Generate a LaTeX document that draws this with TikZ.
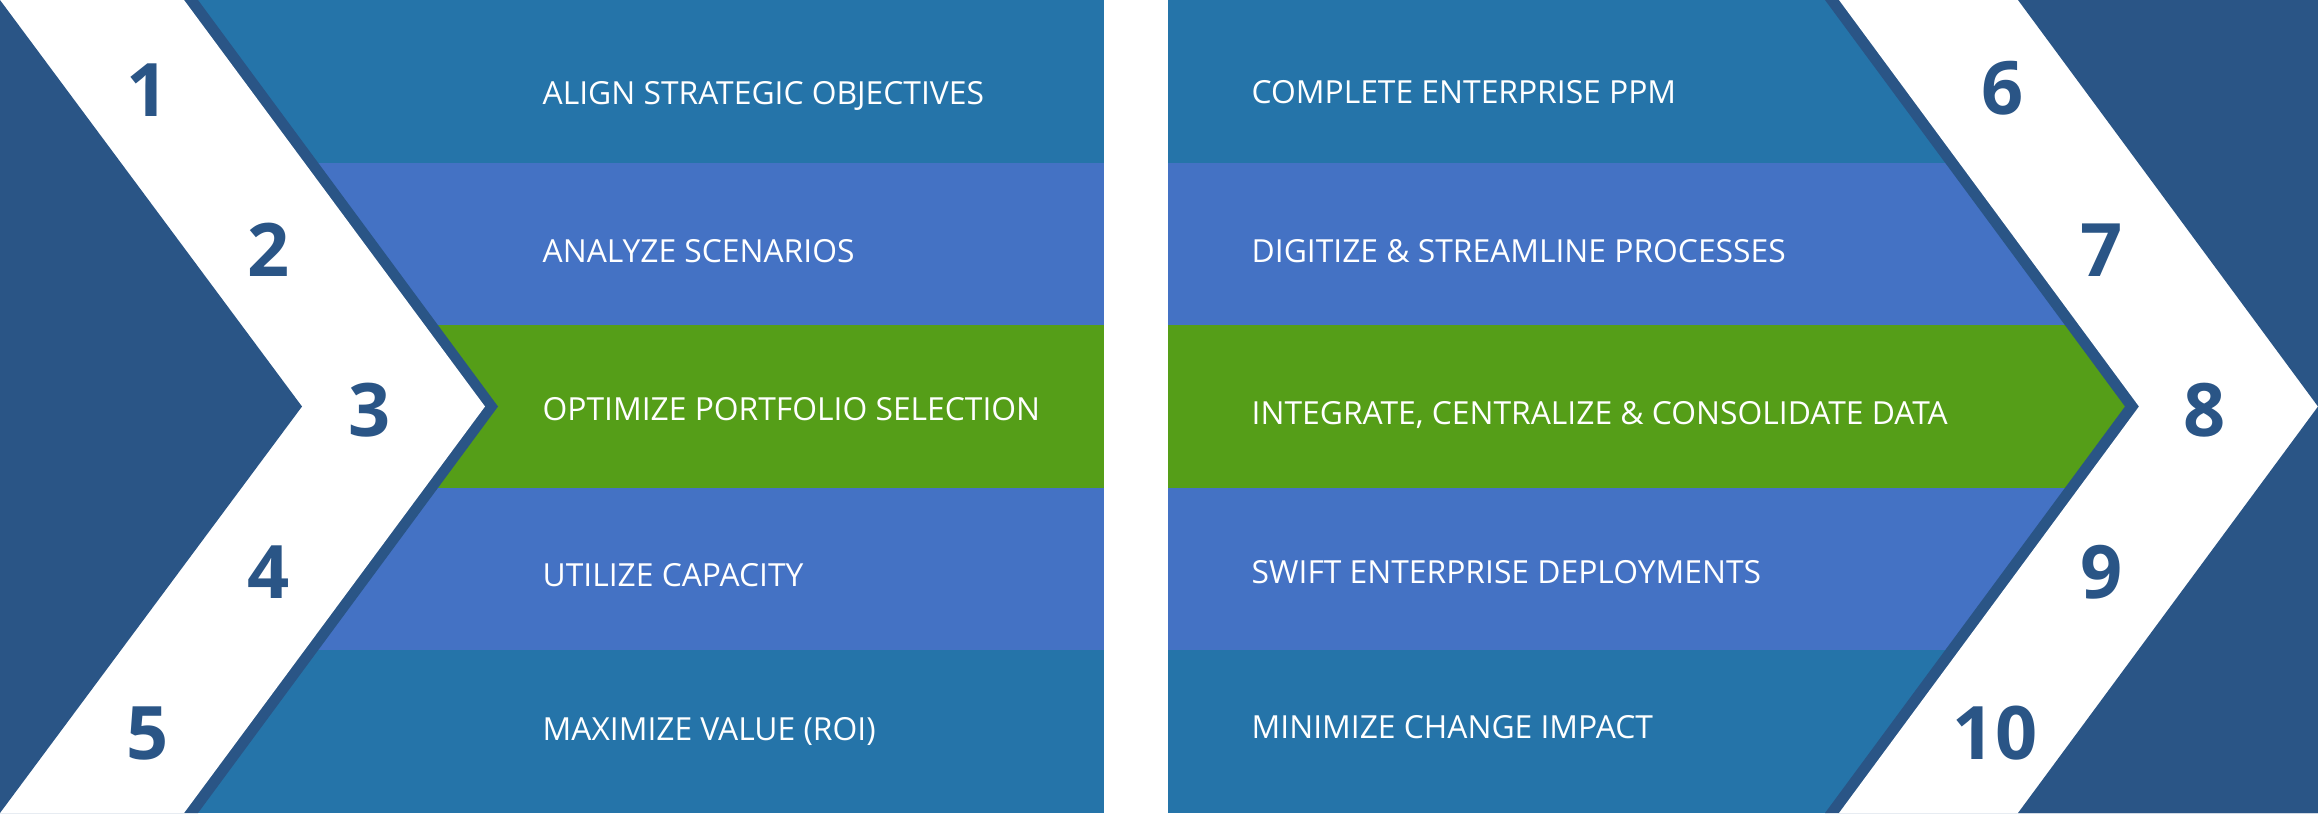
\documentclass[tikz,border=0pt]{standalone}
\usepackage{fontspec}
\setmainfont{Open Sans}
\usepackage{tikz}
\definecolor{bandsteel}{HTML}{2574A9}
\definecolor{bandblue}{HTML}{4472C4}
\definecolor{bandgreen}{HTML}{559E18}
\definecolor{chevnavy}{HTML}{2A5586}

\begin{document}
\begin{tikzpicture}[x=0.1mm,y=-0.1mm,
    steplabel/.style={anchor=base west,inner sep=0pt,text=white,font=\fontsize{9.05}{11}\selectfont},
    stepnum/.style={anchor=base,inner sep=0pt,text=chevnavy,font=\fontsize{21}{24}\selectfont\bfseries}]
        \newcommand{\figbandh}{162.6}
        \newcommand{\figleftend}{1104}
        \newcommand{\figrightstart}{1168}
        \newcommand{\figtipy}{406.5}
        \newcommand{\figlabelleftx}{542}
        \newcommand{\figlabelrightx}{1251}
        \useasboundingbox (0,0) rectangle (2318,813);
        % left bands
        \fill[bandsteel] (0,0) rectangle (\figleftend,\figbandh);
        \fill[bandblue] (0,\figbandh) rectangle (\figleftend,2*\figbandh);
        \fill[bandgreen] (0,2*\figbandh) rectangle (\figleftend,3*\figbandh);
        \fill[bandblue] (0,3*\figbandh) rectangle (\figleftend,4*\figbandh);
        \fill[bandsteel] (0,4*\figbandh) rectangle (\figleftend,813);
        % right bands
        \fill[bandsteel] (\figrightstart,0) rectangle (2318,\figbandh);
        \fill[bandblue] (\figrightstart,\figbandh) rectangle (2318,2*\figbandh);
        \fill[bandgreen] (\figrightstart,2*\figbandh) rectangle (2318,3*\figbandh);
        \fill[bandblue] (\figrightstart,3*\figbandh) rectangle (2318,4*\figbandh);
        \fill[bandsteel] (\figrightstart,4*\figbandh) rectangle (2318,813);
        % left chevron
        \fill[chevnavy] (0,0) -- (198,0) -- (498,\figtipy) -- (198,813) -- (0,813) -- cycle;
        \fill[white] (0,0) -- (184,0) -- (485,\figtipy) -- (184,813) -- (0,813) -- cycle;
        \fill[chevnavy] (0,0) -- (302,\figtipy) -- (0,813) -- cycle;
        % right chevron
        \fill[chevnavy] (1825,0) -- (2318,0) -- (2318,813) -- (1825,813) -- (2125,\figtipy) -- cycle;
        \fill[white] (1839,0) -- (2318,0) -- (2318,813) -- (1839,813) -- (2139,\figtipy) -- cycle;
        \fill[chevnavy] (2018,0) -- (2318,0) -- (2318,813) -- (2018,813) -- (2318,\figtipy) -- cycle;
        % numbers
        \node[stepnum] (n1) at (148,90+26.5) {1};
        \node[stepnum] (n2) at (269,250+26.5) {2};
        \node[stepnum] (n3) at (370,410+26.5) {3};
        \node[stepnum] (n4) at (269,572+26.5) {4};
        \node[stepnum] (n5) at (148,733+26.5) {5};
        \node[stepnum] (n6) at (2003,88+26.5) {6};
        \node[stepnum] (n7) at (2102,250+26.5) {7};
        \node[stepnum] (n8) at (2205,410+26.5) {8};
        \node[stepnum] (n9) at (2102,572+26.5) {9};
        \node[stepnum] (n10) at (1995,733+26.5) {10};
        % labels
        \node[steplabel] (align) at (\figlabelleftx,93+11.4) {ALIGN STRATEGIC OBJECTIVES};
        \node[steplabel] (analyze) at (\figlabelleftx,251+11.4) {ANALYZE SCENARIOS};
        \node[steplabel] (optimize) at (\figlabelleftx,409+11.4) {OPTIMIZE PORTFOLIO SELECTION};
        \node[steplabel] (utilize) at (\figlabelleftx,575+11.4) {UTILIZE CAPACITY};
        \node[steplabel] (maximize) at (\figlabelleftx,729+11.4) {MAXIMIZE VALUE (ROI)};
        \node[steplabel] (complete) at (\figlabelrightx,92+11.4) {COMPLETE ENTERPRISE PPM};
        \node[steplabel] (digitize) at (\figlabelrightx,251+11.4) {DIGITIZE \& STREAMLINE PROCESSES};
        \node[steplabel] (integrate) at (\figlabelrightx,413+11.4) {INTEGRATE, CENTRALIZE \& CONSOLIDATE DATA};
        \node[steplabel] (swift) at (\figlabelrightx,572+11.4) {SWIFT ENTERPRISE DEPLOYMENTS};
        \node[steplabel] (minimize) at (\figlabelrightx,727+11.4) {MINIMIZE CHANGE IMPACT};
    \end{tikzpicture}
\end{document}
